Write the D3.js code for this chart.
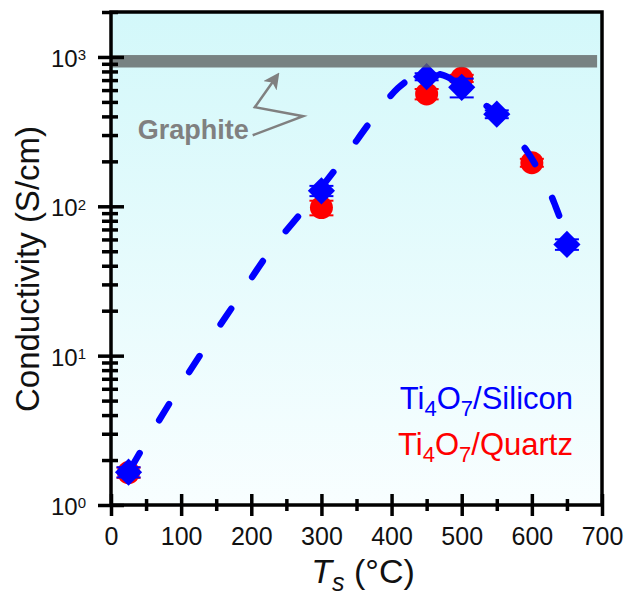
<!DOCTYPE html>
<html>
<head>
<meta charset="utf-8">
<script src="https://cdn.jsdelivr.net/npm/d3@7"></script>
<style>
  html, body { margin: 0; padding: 0; background: #fff; }
  svg { display: block; font-family: "Liberation Sans", Arial, sans-serif; }
</style>
</head>
<body>
<svg width="626" height="595"></svg>
<script>
"use strict";

// Ti4O7 on silicon (blue diamonds)
const siliconT = [25, 300, 450, 500, 550, 650];
const siliconValue = [1.66, 127, 738, 626, 414, 55.6];
const siliconErr = [0.13, 10, 40, 90, 25, 4.5];

// Ti4O7 on quartz (red circles)
const quartzT = [25, 300, 450, 500, 600];
const quartzValue = [1.65, 98, 565, 719, 196];
const quartzErr = [0.13, 11, 45, 40, 12];

// dashed guide line
const fitT = [25, 46, 88, 134, 180, 225, 281, 332, 379, 409, 431, 455, 480, 500, 525, 550, 566, 593, 612, 632, 645, 650];
const fitValue = [1.66, 2.45, 5.2, 11.3, 23.7, 49, 103, 210, 420, 618, 733, 780, 735, 620, 506, 414, 333, 234, 166, 105, 70, 56];

// graphite reference band + label
const graphiteBand = [850, 1030];
const graphiteSpan = [0, 693];
const graphiteLabel = {t: 38, value: 282, text: "Graphite"};
const graphiteArrowT = [202, 274, 205, 236];
const graphiteArrowValue = [299, 401, 461, 740];

// ticks
const xTicks = [0, 100, 200, 300, 400, 500, 600, 700];
const xMinorTicks = [50, 150, 250, 350, 450, 550, 650];
const yTicks = [1, 10, 100, 1000];
const yMinorTicks = [2, 3, 4, 5, 6, 7, 8, 9, 20, 30, 40, 50, 60, 70, 80, 90,
  200, 300, 400, 500, 600, 700, 800, 900, 2000];

const svg = d3.select("svg");
let margin = {top: 12, right: 24, bottom: 90, left: 111};
let width = +svg.attr("width");
let height = +svg.attr("height");

let x = d3.scaleLinear([0, 700], [margin.left, width - margin.right]);
let y = d3.scaleLog([1, 2000], [height - margin.bottom, margin.top]);

const blue = "#0000ff";
const red = "#ff0000";

// background gradient
let defs = svg.append("defs");
let grad = defs.append("linearGradient")
    .attr("id", "bg")
    .attr("gradientUnits", "userSpaceOnUse")
    .attr("x1", 0).attr("y1", y(2000)).attr("x2", 0).attr("y2", y(1));
grad.append("stop").attr("offset", "0%").attr("stop-color", "#d3f8fa");
grad.append("stop").attr("offset", "100%").attr("stop-color", "#f8feff");

defs.append("marker")
    .attr("id", "arrow")
    .attr("viewBox", "0 0 10 10")
    .attr("refX", 7).attr("refY", 5)
    .attr("markerWidth", 6.5).attr("markerHeight", 6.5)
    .attr("markerUnits", "strokeWidth")
    .attr("orient", "auto")
  .append("path")
    .attr("d", "M0,0L10,5L0,10L2.5,5z")
    .attr("fill", "#808080");

svg.append("rect")
    .attr("x", x(0)).attr("y", y(2000))
    .attr("width", x(700) - x(0))
    .attr("height", y(1) - y(2000))
    .attr("fill", "url(#bg)");

// error bars helper
function errorBars(g, ts, vals, errs, color) {
  let data = ts.map((t, i) => ({t, v: vals[i], e: errs[i]}));
  let eb = g.append("g")
      .attr("stroke", color)
      .attr("stroke-width", 2)
    .selectAll("g").data(data).join("g");
  eb.append("line")
      .attr("x1", d => x(d.t)).attr("x2", d => x(d.t))
      .attr("y1", d => y(d.v - d.e)).attr("y2", d => y(d.v + d.e));
  eb.append("line")
      .attr("x1", d => x(d.t) - 12).attr("x2", d => x(d.t) + 12)
      .attr("y1", d => y(d.v - d.e)).attr("y2", d => y(d.v - d.e));
  eb.append("line")
      .attr("x1", d => x(d.t) - 12).attr("x2", d => x(d.t) + 12)
      .attr("y1", d => y(d.v + d.e)).attr("y2", d => y(d.v + d.e));
}

// quartz
let gq = svg.append("g");
errorBars(gq, quartzT, quartzValue, quartzErr, red);
gq.append("g").selectAll("circle")
  .data(quartzT.map((t, i) => [t, quartzValue[i]]))
  .join("circle")
    .attr("cx", d => x(d[0]))
    .attr("cy", d => y(d[1]))
    .attr("r", 11.5)
    .attr("fill", red);

// dashed line
let line = d3.line()
    .x(d => x(d[0]))
    .y(d => y(d[1]))
    .curve(d3.curveMonotoneX);
svg.append("path")
    .datum(fitT.map((t, i) => [t, fitValue[i]]))
    .attr("d", line)
    .attr("fill", "none")
    .attr("stroke", blue)
    .attr("stroke-width", 6.5)
    .attr("stroke-linecap", "round")
    .attr("stroke-dasharray", "19,38")
    .attr("stroke-dashoffset", -3);

// silicon
let gs = svg.append("g");
errorBars(gs, siliconT, siliconValue, siliconErr, blue);
let diamond = d3.symbol(d3.symbolSquare, 370);
gs.append("g").selectAll("path")
  .data(siliconT.map((t, i) => [t, siliconValue[i]]))
  .join("path")
    .attr("d", diamond)
    .attr("transform", d => `translate(${x(d[0])},${y(d[1])}) rotate(45)`)
    .attr("fill", blue);

// graphite band
svg.append("rect")
    .attr("x", x(graphiteSpan[0]))
    .attr("y", y(graphiteBand[1]))
    .attr("width", x(graphiteSpan[1]) - x(graphiteSpan[0]))
    .attr("height", y(graphiteBand[0]) - y(graphiteBand[1]))
    .attr("fill", "#606464")
    .attr("fill-opacity", 0.8);

svg.append("text")
    .attr("x", x(graphiteLabel.t))
    .attr("y", y(graphiteLabel.value))
    .attr("fill", "#808080")
    .style("font-size", "27px")
    .style("font-weight", "bold")
    .text(graphiteLabel.text);

svg.append("path")
    .datum(graphiteArrowT.map((t, i) => [t, graphiteArrowValue[i]]))
    .attr("d", d3.line().x(d => x(d[0])).y(d => y(d[1])))
    .attr("fill", "none")
    .attr("stroke", "#808080")
    .attr("stroke-width", 2.5)
    .attr("marker-end", "url(#arrow)");

// axes
let xAxis = svg.append("g")
    .attr("transform", `translate(0,${y(1)})`)
    .call(d3.axisBottom(x).tickValues(xTicks).tickSize(11).tickPadding(11));
xAxis.selectAll(".tick line").attr("y1", -11);
let xMinor = svg.append("g")
    .attr("transform", `translate(0,${y(1)})`)
    .call(d3.axisBottom(x).tickValues(xMinorTicks).tickSize(6).tickFormat(""));
xMinor.selectAll(".tick line").attr("y1", -6);

let yAxis = svg.append("g")
    .attr("transform", `translate(${x(0)},0)`)
    .call(d3.axisLeft(y).tickValues(yTicks).tickSize(13).tickPadding(12));
yAxis.selectAll(".tick line").attr("x1", 13);
let yMinor = svg.append("g")
    .attr("transform", `translate(${x(0)},0)`)
    .call(d3.axisLeft(y).tickValues(yMinorTicks).tickSize(9).tickFormat(""));
yMinor.selectAll(".tick line").attr("x1", 7);

[xAxis, xMinor, yAxis, yMinor].forEach(g => {
  g.select(".domain").remove();
  g.selectAll(".tick line").attr("stroke", "#000").attr("stroke-width", 3.5);
});

xAxis.selectAll("text")
    .style("font-size", "25px")
    .attr("fill", "#111");

yAxis.selectAll("text")
    .attr("fill", "#111")
    .style("font-size", "24px")
    .attr("dy", "0.4em")
    .text("")
    .each(function(d) {
      let t = d3.select(this);
      t.append("tspan").text("10");
      t.append("tspan")
          .attr("dy", "-0.45em")
          .style("font-size", "15px")
          .text(Math.round(Math.log10(d)));
    });

// frame
svg.append("rect")
    .attr("x", x(0)).attr("y", y(2000))
    .attr("width", x(700) - x(0))
    .attr("height", y(1) - y(2000))
    .attr("fill", "none")
    .attr("stroke", "#000")
    .attr("stroke-width", 3.5);

// axis titles
svg.append("text")
    .attr("transform", "translate(39,269) rotate(-90)")
    .attr("text-anchor", "middle")
    .style("font-size", "33px")
    .attr("fill", "#111")
    .text("Conductivity (S/cm)");

let xt = svg.append("text")
    .attr("x", 363)
    .attr("y", 583)
    .attr("text-anchor", "middle")
    .style("font-size", "34px")
    .attr("fill", "#111");
xt.append("tspan").style("font-style", "italic").text("T");
xt.append("tspan").style("font-style", "italic").style("font-size", "25px").attr("dy", 8).text("s");
xt.append("tspan").attr("dy", -8).text(" (°C)");

// legend
function legendEntry(yPos, color, rest) {
  let t = svg.append("text")
      .attr("x", 573)
      .attr("y", yPos)
      .attr("text-anchor", "end")
      .attr("fill", color)
      .style("font-size", "31px");
  t.append("tspan").text("Ti");
  t.append("tspan").attr("dy", 7).style("font-size", "22px").text("4");
  t.append("tspan").attr("dy", -7).text("O");
  t.append("tspan").attr("dy", 7).style("font-size", "22px").text("7");
  t.append("tspan").attr("dy", -7).text(rest);
}
legendEntry(409, blue, "/Silicon");
legendEntry(455, red, "/Quartz");
</script>
</body>
</html>
